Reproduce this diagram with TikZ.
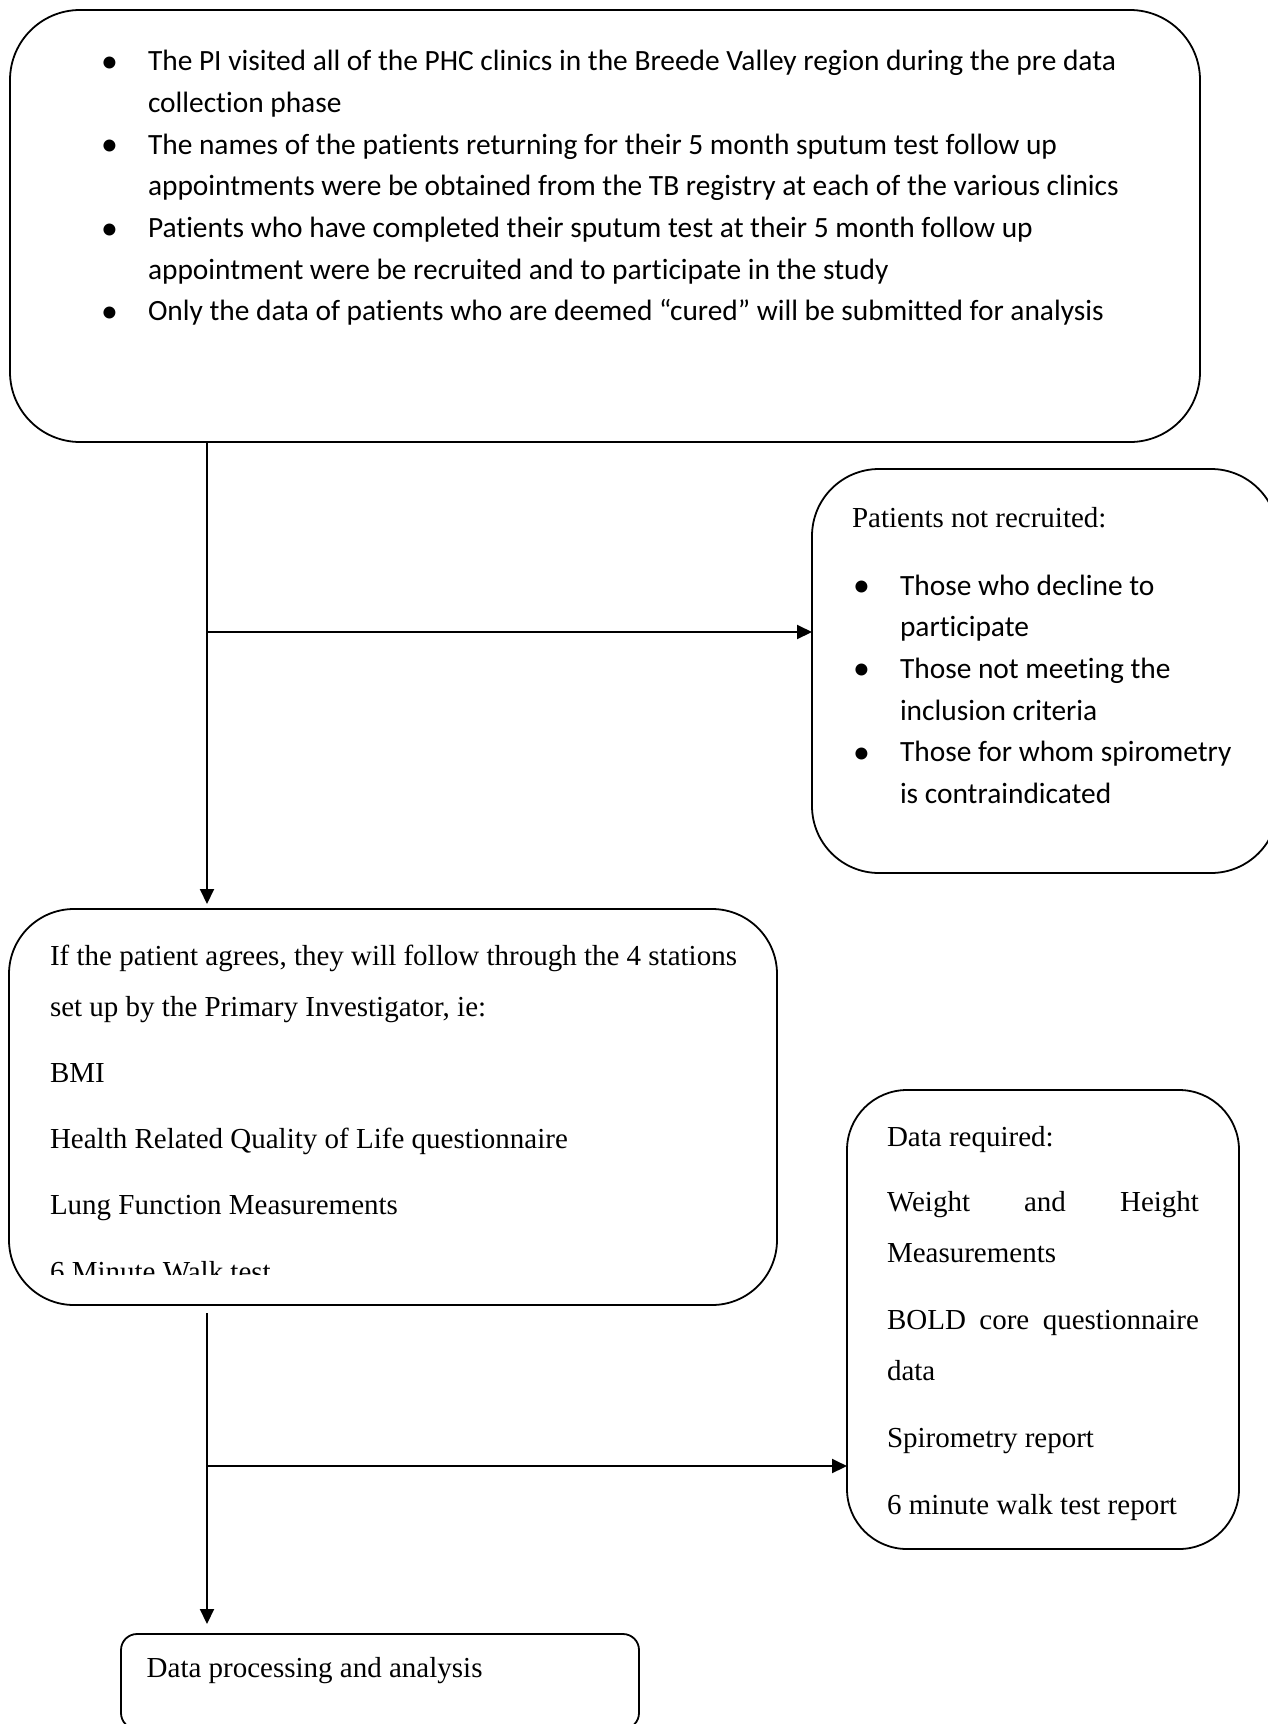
\documentclass[tikz,border=0pt]{standalone}
\usepackage{fontspec}
\setmainfont{Liberation Serif}
\newfontfamily\calfont[Ligatures=NoCommon]{Carlito}
\usetikzlibrary{arrows.meta}
\newcommand\bl{\makebox[47pt][l]{\raisebox{-1.5pt}{\scalebox{1.15}{•}}}}
\newcommand\ind{\hspace*{47pt}}
\newcommand\natsp{\spaceskip=0pt\xspaceskip=0pt\relax}
\begin{document}
\begin{tikzpicture}[x=1pt,y=-1pt,
  box/.style={draw, line width=1.8pt, inner sep=0pt, outer sep=0pt, anchor=north west},
  txt/.style={inner sep=0pt, outer sep=0pt, anchor=base west, align=left},
  calbody/.style={font=\calfont\fontsize{29.4}{41.7}\selectfont},
  serbody/.style={font=\fontsize{29}{51}\selectfont},
  conn/.style={line width=2pt},
  arr/.style={conn, -{Triangle[length=15pt,width=14pt]}}]
\useasboundingbox[fill=white] (0,0) rectangle (1267,1724);

% boxes
\node[box, minimum width=1190pt, minimum height=432pt, rounded corners=70pt] (topbox) at (10,10) {};
\node[box, minimum width=466pt, minimum height=404pt, rounded corners=67pt] (notrec) at (812,469) {};
\node[box, minimum width=768pt, minimum height=396pt, rounded corners=65pt] (stations) at (9,909) {};
\node[box, minimum width=392pt, minimum height=459pt, rounded corners=60pt] (datareq) at (847,1090) {};
\node[box, minimum width=518pt, minimum height=95pt, rounded corners=16pt] (analysis) at (121,1634) {};

% texts
\node[txt, calbody, text width=1100pt] (toptext) at (101,70.7) {\natsp
\bl The PI visited all of the PHC clinics in the Breede Valley region during the pre data\\
\ind collection phase\\
\bl The names of the patients returning for their 5 month sputum test follow up\\
\ind appointments were be obtained from the TB registry at each of the various clinics\\
\bl Patients who have completed their sputum test at their 5 month follow up\\
\ind appointment were be recruited and to participate in the study\\
\bl Only the data of patients who are deemed “cured” will be submitted for analysis};

\node[txt, font=\fontsize{29}{34}\selectfont] (nrtitle) at (852,527) {Patients not recruited:};
\node[txt, calbody, text width=400pt] (nrlist) at (853,595) {\natsp
\bl Those who decline to\\
\ind participate\\
\bl Those not meeting the\\
\ind inclusion criteria\\
\bl Those for whom spirometry\\
\ind is contraindicated};

\begin{scope}
\clip (0,0) rectangle (1267,1274);
\node[txt, serbody, text width=740pt] (stext) at (50,965.7) {\natsp
If the patient agrees, they will follow through the 4 stations\\
set up by the Primary Investigator, ie:\\[15pt]
BMI\\[15pt]
Health Related Quality of Life questionnaire\\[15pt]
Lung Function Measurements\\[16pt]
6 Minute Walk test};
\end{scope}

\node[txt, serbody, text width=312pt] (dtext) at (887,1146.7) {\natsp
Data required:\\[14pt]
\makebox[312pt][s]{Weight and Height}\\
Measurements\\[16pt]
\makebox[312pt][s]{BOLD core questionnaire}\\
data\\[15.7pt]
Spirometry report\\[15.6pt]
6 minute walk test report};

\node[txt, font=\fontsize{29}{34}\selectfont] (atext) at (146.7,1677) {Data processing and analysis};

% connectors
\coordinate (j1) at (207,632);
\coordinate (j2) at (207,1466);
\draw[arr, shorten >=5pt] (topbox.south -| j1) -- (stations.north -| j1);
\draw[arr] (j1) -- (j1 -| notrec.west);
\draw[arr, shorten <=8pt, shorten >=10pt] (stations.south -| j2) -- (analysis.north -| j2);
\draw[arr] (j2) -- (j2 -| datareq.west);
\end{tikzpicture}
\end{document}
